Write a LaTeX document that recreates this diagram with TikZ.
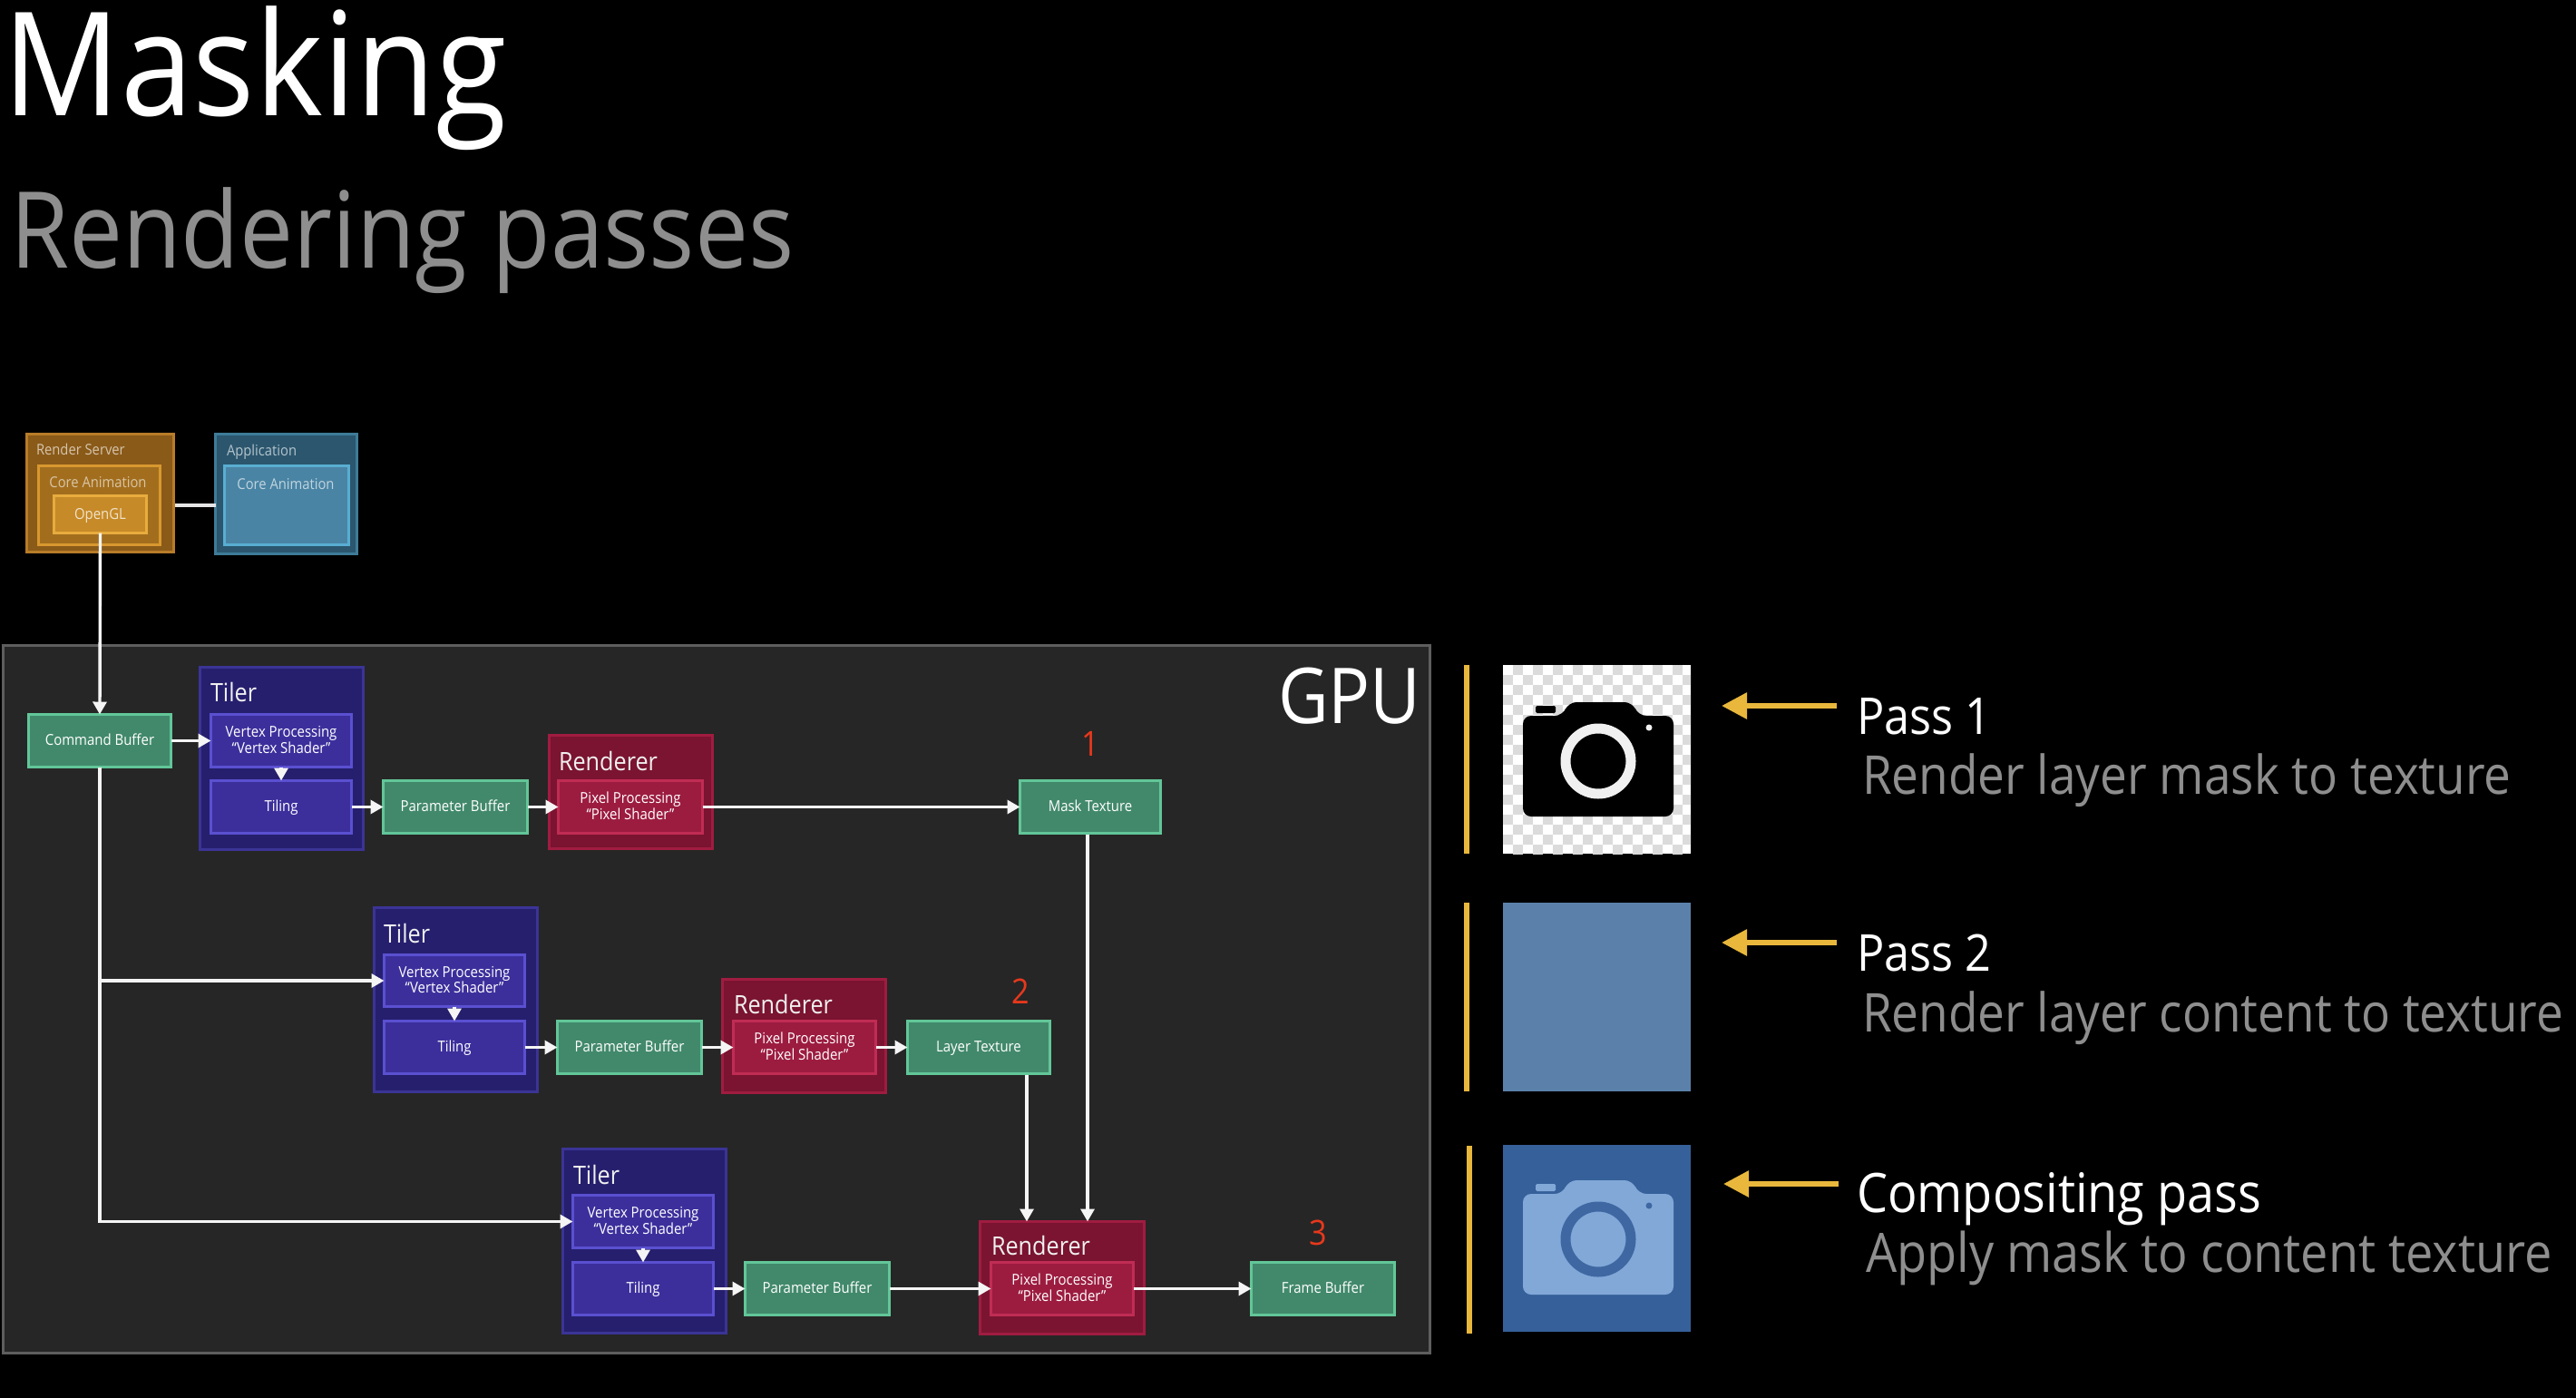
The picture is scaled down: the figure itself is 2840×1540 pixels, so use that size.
\documentclass[tikz,border=0pt]{standalone}
\usepackage{fontspec}
\setmainfont[FakeStretch=0.9]{Open Sans}
\usetikzlibrary{arrows.meta,calc}
\definecolor{gpuf}{HTML}{262626}\definecolor{gpud}{HTML}{5E5E5E}
\definecolor{or1}{HTML}{8A5A18}\definecolor{or1d}{HTML}{B87C28}
\definecolor{or2}{HTML}{A26E1E}\definecolor{or2d}{HTML}{D8982F}
\definecolor{or3}{HTML}{C68A28}\definecolor{or3d}{HTML}{E8AC3E}
\definecolor{bl1}{HTML}{2B566E}\definecolor{bl1d}{HTML}{3E7C98}
\definecolor{bl2}{HTML}{4A84A4}\definecolor{bl2d}{HTML}{58AED2}
\definecolor{gr}{HTML}{42896C}\definecolor{grd}{HTML}{62C698}
\definecolor{ti1}{HTML}{261F6E}\definecolor{ti1d}{HTML}{3B3496}
\definecolor{ti2}{HTML}{3C2F9C}\definecolor{ti2d}{HTML}{5A50D0}
\definecolor{re1}{HTML}{7A1430}\definecolor{re1d}{HTML}{A01C40}
\definecolor{re2}{HTML}{9C1C40}\definecolor{re2d}{HTML}{C02C54}
\definecolor{numred}{HTML}{E8381C}\definecolor{gold}{HTML}{E8B73C}
\definecolor{dim}{HTML}{8E8E8E}\definecolor{sq2}{HTML}{5B81AB}
\definecolor{sq3}{HTML}{36609A}\definecolor{camlt}{HTML}{82A8D8}\definecolor{camdk}{HTML}{3F68A2}
\tikzset{
 box/.style={line width=3pt,inner sep=0pt,outer sep=0pt,align=center,text=white,font=\fontsize{16.6}{17.5}\selectfont},
 orbox/.style={box,draw=or1d,fill=or1},or2box/.style={box,draw=or2d,fill=or2},or3box/.style={box,draw=or3d,fill=or3,text=white!75!or3},
 blbox/.style={box,draw=bl1d,fill=bl1},bl2box/.style={box,draw=bl2d,fill=bl2},
 grbox/.style={box,draw=grd,fill=gr},
 tibox/.style={box,draw=ti1d,fill=ti1},ti2box/.style={box,draw=ti2d,fill=ti2},
 rebox/.style={box,draw=re1d,fill=re1},re2box/.style={box,draw=re2d,fill=re2},
 gpubox/.style={box,draw=gpud,fill=gpuf},
 txt/.style={inner sep=0pt,outer sep=0pt,anchor=base west,text=white},
 small/.style={txt,font=\fontsize{16.4}{18}\selectfont},
 title/.style={txt,font=\fontsize{28}{30}\selectfont,text=white!88!gray},
 passt/.style={txt,font=\fontsize{56}{60}\selectfont},
 passc/.style={txt,font=\fontsize{60}{64}\selectfont},
 passd/.style={txt,font=\fontsize{59}{62}\selectfont,text=dim},
 passe/.style={txt,font=\fontsize{60}{63}\selectfont,text=dim},
 num/.style={inner sep=0pt,outer sep=0pt,text=numred,font=\fontsize{38}{40}\selectfont},
 link/.style={draw=white!92!gray,line width=3.4pt},
 flow/.style={link,-{Triangle[length=14pt,width=15pt]}},
 goldbar/.style={draw=gold,line width=6pt},
 goldarr/.style={draw=gold,line width=6pt,-{Triangle[length=28pt,width=28pt]}},
}
\newcommand{\bx}[7]{%
 \pgfmathsetmacro\bxcx{(#3+#5)/2}\pgfmathsetmacro\bxcy{(#4+#6)/2-1}%
 \pgfmathsetmacro\bxw{#5-#3-3}\pgfmathsetmacro\bxh{#6-#4-3}%
 \node[#2,minimum width=\bxw pt,minimum height=\bxh pt] (#1) at (\bxcx,\bxcy) {\raisebox{-1.5pt}[\height][\depth]{\begin{tabular}{@{}c@{}}#7\end{tabular}}};}
\newcommand{\cam}[4]{% x y body ring
 \begin{scope}[shift={(#1,#2)}]
  \fill[#3,rounded corners=9pt] (22,56) -- (66,56) -- (72,41) -- (143,41) -- (149,56) -- (188,56) -- (188,167) -- (22,167) -- cycle;
  \fill[#3,rounded corners=1.5pt] (36,45) rectangle (58,53);
  \draw[#4,line width=11pt] (105,106) circle (36);
  \fill[#4] (161,69) circle (3.5);
 \end{scope}}
\begin{document}
\begin{tikzpicture}[x=1pt,y=-1pt]
\useasboundingbox (0,0) rectangle (2840,1540);
\fill[black] (-3,-3) rectangle (2843,1543);
\node[txt,font=\fontsize{159}{164}\selectfont] (ttl) at (4,127) {Masking};
\node[txt,font=\fontsize{117}{121}\selectfont,text=dim] (sub) at (11,295) {Rendering passes};
% GPU panel
\bx{gpu}{gpubox}{2}{711}{1578}{1494}{}
\node[txt,font=\fontsize{85}{88}\selectfont] (gputxt) at (1409,797) {GPU};
% top group
\bx{rs}{orbox}{28}{478}{193}{611}{}
\bx{rsca}{or2box}{41}{513}{178}{603}{}
\bx{gl}{or3box}{58}{546}{163}{590}{OpenGL}
\bx{app}{blbox}{236}{478}{395}{613}{}
\bx{appca}{bl2box}{246}{513}{386}{603}{}
\node[small,text=white!65!or1] (rst) at (40,501) {Render Server};
\node[small,text=white!65!bl1] (appt) at (250,502) {Application};
\node[small,anchor=base,text=white!60!or2] (rsc) at (108,537) {Core Animation};
\node[small,anchor=base,text=white!65!bl2] (appc) at (315,539) {Core Animation};
% row 1
\bx{cmd}{grbox}{30}{787}{190}{848}{Command Buffer}
\bx{t1}{tibox}{219}{735}{402}{939}{}
\bx{v1}{ti2box}{231}{787}{389}{848}{Vertex Processing\\“Vertex Shader”}
\bx{g1}{ti2box}{231}{860}{389}{921}{Tiling}
\bx{p1}{grbox}{421}{860}{583}{921}{Parameter Buffer}
\bx{r1}{rebox}{604}{810}{787}{938}{}
\bx{x1}{re2box}{614}{860}{776}{921}{Pixel Processing\\“Pixel Shader”}
\bx{mask}{grbox}{1123}{860}{1281}{921}{Mask Texture}
\node[title] (tt1) at (232,773) {Tiler};
\node[title] (rt1) at (616,849) {Renderer};
\node[num] (n1) at (1202,820) {1};
% row 2
\bx{t2}{tibox}{411}{1000}{594}{1206}{}
\bx{v2}{ti2box}{422}{1052}{580}{1112}{Vertex Processing\\“Vertex Shader”}
\bx{g2}{ti2box}{422}{1125}{580}{1186}{Tiling}
\bx{p2}{grbox}{613}{1125}{775}{1186}{Parameter Buffer}
\bx{r2}{rebox}{795}{1079}{978}{1207}{}
\bx{x2}{re2box}{807}{1125}{967}{1186}{Pixel Processing\\“Pixel Shader”}
\bx{layer}{grbox}{999}{1125}{1159}{1186}{Layer Texture}
\node[title] (tt2) at (423,1039) {Tiler};
\node[title] (rt2) at (809,1117) {Renderer};
\node[num] (n2) at (1125,1093) {2};
% row 3
\bx{t3}{tibox}{619}{1266}{802}{1472}{}
\bx{v3}{ti2box}{630}{1317}{788}{1378}{Vertex Processing\\“Vertex Shader”}
\bx{g3}{ti2box}{630}{1391}{788}{1452}{Tiling}
\bx{p3}{grbox}{820}{1391}{982}{1452}{Parameter Buffer}
\bx{r3}{rebox}{1079}{1346}{1263}{1473}{}
\bx{x3}{re2box}{1091}{1391}{1251}{1452}{Pixel Processing\\“Pixel Shader”}
\bx{fb}{grbox}{1378}{1391}{1539}{1452}{Frame Buffer}
\node[title] (tt3) at (632,1305) {Tiler};
\node[title] (rt3) at (1093,1383) {Renderer};
\node[num] (n3) at (1453,1359) {3};
% connectors
\coordinate (rsout) at (193,557);
\coordinate (layout) at (1132,1185);
\coordinate (maskout) at (1199,920);
\draw[link,draw=white!80!gray] (rsout) -- (rsout -| app.west);
\draw[flow] (gl.south) -- (cmd.north);
\draw[flow] (cmd.east) -- (v1.west);
\draw[flow] (v1.south) -- (g1.north);
\draw[flow] (g1.east) -- (p1.west);
\draw[flow] (p1.east) -- (x1.west);
\draw[flow] (x1.east) -- (mask.west);
\draw[flow] (maskout) -- (maskout |- r3.north);
\draw[flow] (cmd.south) |- (v2.west);
\draw[flow] (cmd.south) |- (v3.west);
\draw[flow] (v2.south) -- (g2.north);
\draw[flow] (g2.east) -- (p2.west);
\draw[flow] (p2.east) -- (x2.west);
\draw[flow] (x2.east) -- (layer.west);
\draw[flow] (layout) -- (layout |- r3.north);
\draw[flow] (v3.south) -- (g3.north);
\draw[flow] (g3.east) -- (p3.west);
\draw[flow] (p3.east) -- (x3.west);
\draw[flow] (x3.east) -- (fb.west);
% right panel
\coordinate (b1a) at (1617,733);\coordinate (b1b) at (1617,941);
\coordinate (b2a) at (1617,995);\coordinate (b2b) at (1617,1203);
\coordinate (b3a) at (1620,1263);\coordinate (b3b) at (1620,1470);
\draw[goldbar] (b1a) -- (b1b);\draw[goldbar] (b2a) -- (b2b);\draw[goldbar] (b3a) -- (b3b);
\fill[white] (1657,733) rectangle (1864,941);
\begin{scope}
 \clip (1657,733) rectangle (1864,941);
 \foreach \i in {0,...,18}{\foreach \j in {0,...,18}{%
  \pgfmathparse{int(mod(\i+\j,2))}%
  \ifnum\pgfmathresult=1 \fill[gray!28] ({1657+11*\i},{733+11*\j}) rectangle +(11,11);\fi}}
\end{scope}
\cam{1657}{733}{black}{white!88!gray}
\fill[sq2] (1657,995) rectangle (1864,1203);
\fill[sq3] (1657,1262) rectangle (1864,1468);
\cam{1657}{1260}{camlt}{camdk}
\coordinate (a1s) at (2025,778);\coordinate (a1e) at (1898,778);
\coordinate (a2s) at (2025,1039);\coordinate (a2e) at (1898,1039);
\coordinate (a3s) at (2027,1305);\coordinate (a3e) at (1900,1305);
\draw[goldarr] (a1s) -- (a1e);\draw[goldarr] (a2s) -- (a2e);\draw[goldarr] (a3s) -- (a3e);
\node[passt] (p1t) at (2047,809) {Pass 1};
\node[passd] (p1d) at (2053,875) {Render layer mask to texture};
\node[passt] (p2t) at (2047,1070) {Pass 2};
\node[passd] (p2d) at (2053,1137) {Render layer content to texture};
\node[passc] (p3t) at (2047,1336) {Compositing pass};
\node[passe] (p3d) at (2057,1402) {Apply mask to content texture};
\end{tikzpicture}
\end{document}
